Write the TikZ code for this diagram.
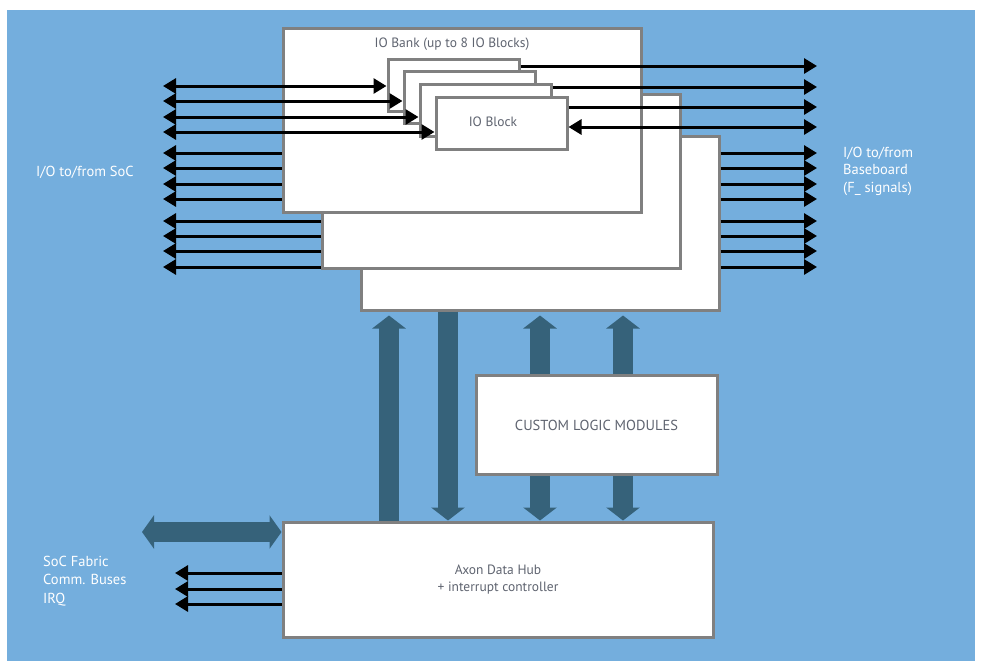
\documentclass[tikz,border=0pt]{standalone}
\usepackage{fontspec}
\setmainfont{PT Sans}
\usetikzlibrary{arrows.meta}
\definecolor{bgblue}{RGB}{116,174,221}
\definecolor{fatblue}{RGB}{54,98,122}
\definecolor{boxgray}{RGB}{128,128,128}
\definecolor{txtgray}{RGB}{95,100,112}
\begin{document}
\begin{tikzpicture}[x=1pt,y=-1pt,
  box/.style={draw=boxgray,line width=3pt,fill=white,inner sep=0pt,
    font=\fontsize{13.5}{17.5}\selectfont,text=txtgray,align=center},
  glbl/.style={inner sep=0pt,font=\fontsize{13.5}{17}\selectfont,text=txtgray},
  wlbl/.style={inner sep=0pt,text=white,align=left},
  sig/.style={line width=3pt,black},
  tipR/.style={-{Triangle[length=13pt,width=15pt]}},
  dbl/.style={{Triangle[length=13pt,width=15pt]}-{Triangle[length=13pt,width=15pt]}},
  fat/.style={line width=20pt,fatblue},
  fattip/.style={-{Triangle[length=13pt,width=33pt]}},
  fatdbl/.style={{Triangle[length=12pt,width=33pt]}-{Triangle[length=12pt,width=33pt]}}
]
\useasboundingbox (0,0) rectangle (987,670);
\fill[white] (0,0) rectangle (987,670);
\fill[bgblue] (7,10) rectangle (975,661);

% IO bank boxes
\node[box,minimum width=358pt,minimum height=174pt] (bank3) at (540,223) {};
\node[box,minimum width=358pt,minimum height=174pt] (bank2) at (501,181) {};
\node[box,minimum width=358pt,minimum height=184pt] (bank1) at (462,120) {};
\node[glbl] (banklbl) at (452,44) {IO Bank (up to 8 IO Blocks)};

% IO blocks
\node[box,minimum width=131pt,minimum height=52pt] (blk1) at (453.5,85) {};
\node[box,minimum width=131pt,minimum height=52pt] (blk2) at (469.5,97.5) {};
\node[box,minimum width=131pt,minimum height=52pt] (blk3) at (485.5,110) {};
\node[box,minimum width=131pt,minimum height=52pt] (blk4) at (501.5,123) {};
\node[glbl] (blklbl) at (493,122) {IO Block};

% custom logic and axon
\node[box,minimum width=241pt,minimum height=99pt,font=\fontsize{14.5}{17}\selectfont] (cl) at (596.5,425) {CUSTOM LOGIC MODULES};
\node[box,minimum width=430pt,minimum height=115pt] (axon) at (498,579.5) {Axon Data Hub\\+ interrupt controller};

% left signal rows
\foreach \y/\n in {86/blk1,101/blk2,117/blk3,132/blk4}{
  \coordinate (l\y) at (163,\y);
  \draw[sig,dbl] (l\y) -- (\n.west |- l\y);
}
\foreach \y in {153,168,184,199}{
  \coordinate (l\y) at (163,\y);
  \draw[sig,tipR] (bank1.west |- l\y) -- (l\y);
}
\foreach \y in {221,236,251,267}{
  \coordinate (l\y) at (163,\y);
  \draw[sig,tipR] (bank2.west |- l\y) -- (l\y);
}

% right signal rows
\foreach \y/\n in {66/blk1,87/blk3,107/blk4}{
  \coordinate (r\y) at (817,\y);
  \draw[sig,tipR] (\n.east |- r\y) -- (r\y);
}
\coordinate (r127) at (817,127);
\draw[sig,dbl] (blk4.east |- r127) -- (r127);
\foreach \y in {153,168,184,199,221,236,251,267}{
  \coordinate (r\y) at (817,\y);
  \draw[sig,tipR] (bank3.east |- r\y) -- (r\y);
}

% fat bus arrows
\coordinate (c1) at (389,0);
\coordinate (c2) at (448,0);
\coordinate (c3) at (540,0);
\coordinate (c4) at (623,0);
\draw[fat,fattip,shorten >=4pt] (axon.north -| c1) -- (bank3.south -| c1);
\draw[fat,fattip] (bank3.south -| c2) -- (axon.north -| c2);
\draw[fat,fattip,shorten >=4pt] (cl.north -| c3) -- (bank3.south -| c3);
\draw[fat,fattip] (cl.south -| c3) -- (axon.north -| c3);
\draw[fat,fattip,shorten >=4pt] (cl.north -| c4) -- (bank3.south -| c4);
\draw[fat,fattip] (cl.south -| c4) -- (axon.north -| c4);

\coordinate (sf) at (142,532);
\draw[fat,fatdbl] (sf) -- (axon.west |- sf);

% small IRQ arrows
\foreach \y in {573,589,604}{
  \coordinate (s\y) at (175,\y);
  \draw[sig,tipR] (axon.west |- s\y) -- (s\y);
}

% outside labels
\node[wlbl,anchor=west,font=\fontsize{14.5}{17}\selectfont] (soclbl) at (36,172) {I/O to/from SoC};
\node[wlbl,anchor=west,font=\fontsize{14.5}{17.5}\selectfont] (bblbl) at (843,171) {I/O to/from\\Baseboard\\(F\_ signals)};
\node[wlbl,anchor=west,font=\fontsize{14.5}{18.5}\selectfont] (fablbl) at (43,581) {SoC Fabric\\Comm. Buses\\IRQ};
\end{tikzpicture}
\end{document}
